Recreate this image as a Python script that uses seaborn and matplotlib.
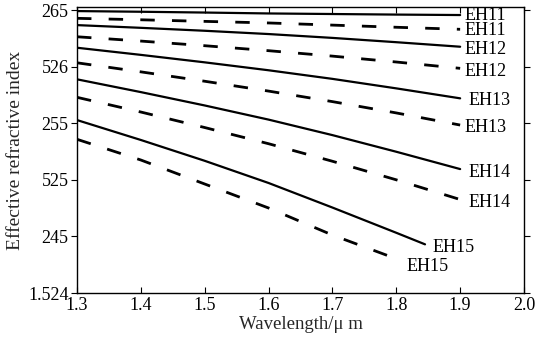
import numpy as np
import pandas as pd
import matplotlib
matplotlib.use("Agg")
import matplotlib.pyplot as plt
import seaborn as sns

sns.set_theme(style="white")
plt.rcParams['font.family'] = ['Liberation Serif', 'DejaVu Serif']

wavelength = [1.3, 1.4, 1.5, 1.6, 1.7, 1.8, 1.9]
wl_eh15_solid = [1.3, 1.4, 1.5, 1.6, 1.7, 1.8, 1.845]
wl_eh15_dashed = [1.3, 1.4, 1.5, 1.6, 1.7, 1.805]

eh11_solid = [1.526491, 1.526485, 1.526478, 1.526470, 1.526465, 1.526460, 1.526456]
eh11_dashed = [1.526427, 1.526414, 1.526400, 1.526386, 1.526367, 1.526348, 1.526330]
eh12_solid = [1.526367, 1.526343, 1.526317, 1.526288, 1.526254, 1.526216, 1.526176]
eh12_dashed = [1.526264, 1.526226, 1.526185, 1.526141, 1.526093, 1.526041, 1.525985]
eh13_solid = [1.526167, 1.526104, 1.526038, 1.525968, 1.525892, 1.525808, 1.525720]
eh13_dashed = [1.526034, 1.525954, 1.525871, 1.525784, 1.525691, 1.525591, 1.525484]
eh14_solid = [1.525888, 1.525775, 1.525657, 1.525532, 1.525395, 1.525248, 1.525095]
eh14_dashed = [1.525729, 1.525599, 1.525462, 1.525319, 1.525164, 1.525000, 1.524826]
eh15_solid = [1.525528, 1.525352, 1.525168, 1.524972, 1.524755, 1.524532, 1.524430]
eh15_dashed = [1.525358, 1.525175, 1.524963, 1.524751, 1.524512, 1.524292]

series = [
    ("EH11", "solid", wavelength, eh11_solid),
    ("EH11", "dashed", wavelength, eh11_dashed),
    ("EH12", "solid", wavelength, eh12_solid),
    ("EH12", "dashed", wavelength, eh12_dashed),
    ("EH13", "solid", wavelength, eh13_solid),
    ("EH13", "dashed", wavelength, eh13_dashed),
    ("EH14", "solid", wavelength, eh14_solid),
    ("EH14", "dashed", wavelength, eh14_dashed),
    ("EH15", "solid", wl_eh15_solid, eh15_solid),
    ("EH15", "dashed", wl_eh15_dashed, eh15_dashed),
]
# label offsets (pixels) from line end
label_offsets = [(4, 0), (4, -1), (4, -3), (4, -3), (8, -2), (4, -2), (8, -3), (8, -3), (7, -3), (7, -7)]

yticks = [1.5265, 1.526, 1.5255, 1.525, 1.5245, 1.524]
ytick_labels = ["265", "526", "255", "525", "245", "1.524"]
xticks = [1.3, 1.4, 1.5, 1.6, 1.7, 1.8, 1.9, 2.0]
xtick_labels = ["1.3", "1.4", "1.5", "1.6", "1.7", "1.8", "1.9", "2.0"]

fig = plt.figure(figsize=(5.36, 3.45), dpi=100)
ax = fig.add_axes([77/536, 1 - 293/345, (524 - 77)/536, (293 - 7)/345])

for (name, kind, xs, ys), off in zip(series, label_offsets):
    df = pd.DataFrame({"x": xs, "y": ys})
    if kind == "solid":
        sns.lineplot(data=df, x="x", y="y", ax=ax, color="black", linewidth=1.6,
                     estimator=None, sort=False)
    else:
        sns.lineplot(data=df, x="x", y="y", ax=ax, color="black", linewidth=2.0,
                     estimator=None, sort=False)
        ax.lines[-1].set_dashes((5.2, 6.2))
    ax.annotate(name, xy=(xs[-1], ys[-1]), xytext=off, textcoords="offset pixels",
                ha="left", va="center", fontsize=13, color="black")

ax.set_xlim(1.3, 2.0)
ax.set_ylim(1.524, 1.526527)
ax.set_xticks(xticks)
ax.set_xticklabels(xtick_labels, fontsize=13)
ax.set_yticks(yticks)
ax.set_yticklabels(ytick_labels, fontsize=13)
ax.set_xlabel("Wavelength/\u03bc m", fontsize=13.5, labelpad=1)
ax.set_ylabel("Effective refractive index", fontsize=14, labelpad=3)

for s in ax.spines.values():
    s.set_color("black")
    s.set_linewidth(1.0)
    s.set_visible(True)
ax.tick_params(axis="x", direction="in", length=4, width=0.8, top=True, bottom=True, pad=3, colors="black")
ax.tick_params(axis="y", direction="out", length=4, width=0.8, left=True, right=True, pad=2, colors="black")
ax.grid(False)

fig.savefig("out.png", dpi=100)
